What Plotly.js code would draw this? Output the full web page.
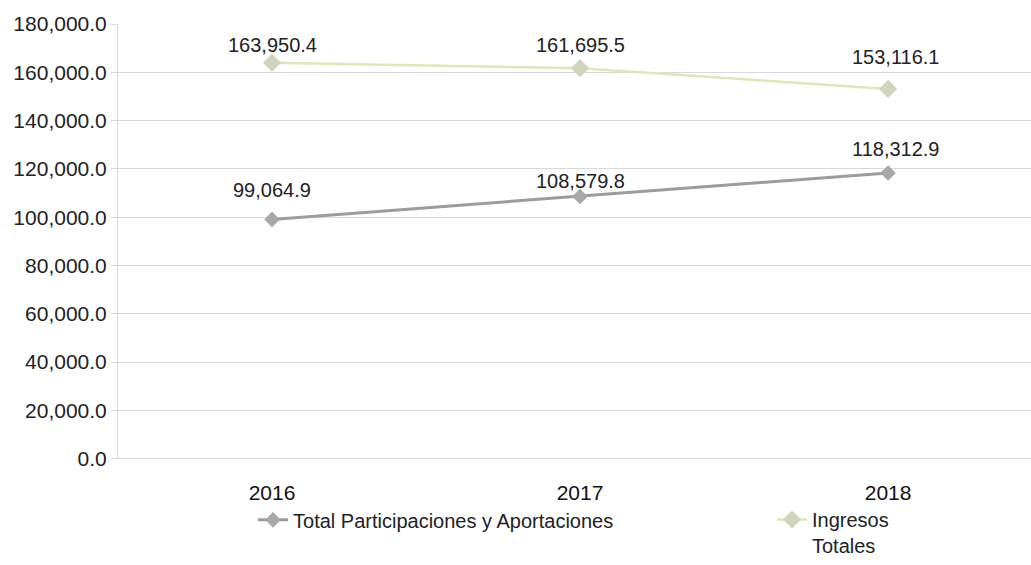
<!DOCTYPE html>
<html>
<head>
<meta charset="utf-8">
<script src="https://cdn.plot.ly/plotly-3.0.1.min.js"></script>
<style>html,body{margin:0;padding:0;background:#fff;}#chart{width:1031px;height:565px;}</style>
</head>
<body>
<div id="chart"></div>
<script>
const years = ['2016', '2017', '2018'];
const totalParticipaciones = [99064.9, 108579.8, 118312.9];
const ingresosTotales = [163950.4, 161695.5, 153116.1];
const seriesNames = ['Total Participaciones y Aportaciones', 'Ingresos<br>Totales'];
const yTickVals = [0, 20000, 40000, 60000, 80000, 100000, 120000, 140000, 160000, 180000];

const FONT = '"Liberation Sans", Arial, sans-serif';
const fmt = v => v.toLocaleString('en-US', {minimumFractionDigits: 1, maximumFractionDigits: 1});

const traces = [
  {
    x: years, y: totalParticipaciones, name: seriesNames[0], type: 'scatter', mode: 'lines+markers',
    line: {color: '#9c9c9c', width: 3},
    marker: {symbol: 'diamond', size: 12, color: '#a8a8a8'},
    legend: 'legend'
  },
  {
    x: years, y: ingresosTotales, name: seriesNames[1], type: 'scatter', mode: 'lines+markers',
    line: {color: '#dfe5bd', width: 2.5},
    marker: {symbol: 'diamond', size: 14, color: '#cfd4bd'},
    legend: 'legend2'
  }
];

const shiftsTotal = [29, 15, 24];
const shiftsIngresos = [18, 23, 32];
const xShifts = [0, 0, 8];
const annotations = [];
years.forEach((yr, i) => {
  annotations.push({xref: 'x', yref: 'y', x: i, y: totalParticipaciones[i], text: fmt(totalParticipaciones[i]), showarrow: false,
    yshift: shiftsTotal[i], xshift: xShifts[i], yanchor: 'middle', font: {family: FONT, size: 20, color: '#222'}});
  annotations.push({xref: 'x', yref: 'y', x: i, y: ingresosTotales[i], text: fmt(ingresosTotales[i]), showarrow: false,
    yshift: shiftsIngresos[i], xshift: xShifts[i], yanchor: 'middle', font: {family: FONT, size: 20, color: '#222'}});
});

const legendFont = {family: FONT, size: 20, color: '#222'};
const layout = {
  width: 1031, height: 565,
  margin: {l: 118, r: 0, t: 24, b: 0},
  paper_bgcolor: '#fff', plot_bgcolor: '#fff',
  font: {family: FONT, size: 20, color: '#222'},
  showlegend: true,
  legend: {x: 0.1479, xanchor: 'left', y: 0.1146, yanchor: 'top',
    font: legendFont, bgcolor: 'rgba(0,0,0,0)'},
  legend2: {x: 0.7163, xanchor: 'left', y: 0.1146, yanchor: 'top', valign: 'top',
    font: legendFont, bgcolor: 'rgba(0,0,0,0)'},
  xaxis: {type: 'category', range: [-0.5, 2.464], showgrid: false, showline: false, zeroline: false,
    ticks: '', ticklabelstandoff: 19, tickfont: {family: FONT, size: 21, color: '#111'}},
  yaxis: {domain: [0.1922, 1], range: [0, 180000], tickvals: yTickVals, ticktext: yTickVals.map(fmt),
    showgrid: true, gridcolor: '#d9d9d9', gridwidth: 1, zeroline: true, zerolinecolor: '#d9d9d9',
    showline: true, linecolor: '#d9d9d9', ticks: 'outside', ticklen: 6, tickcolor: '#d9d9d9',
    tickfont: {family: FONT, size: 21, color: '#222'}},
  annotations: annotations
};

Plotly.newPlot('chart', traces, layout, {displayModeBar: false});
</script>
</body>
</html>
